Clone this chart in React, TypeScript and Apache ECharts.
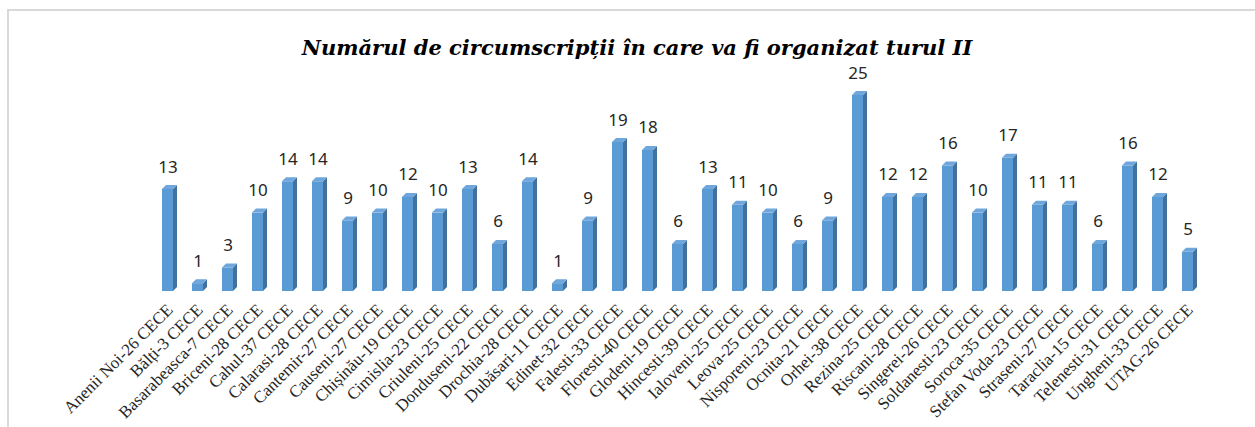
import React, { useEffect, useRef } from "react";
import * as echarts from "echarts";

const categories: string[] = [
  "Anenii Noi-26 CECE", "Bălți-3 CECE", "Basarabeasca-7 CECE", "Briceni-28 CECE",
  "Cahul-37 CECE", "Calarasi-28 CECE", "Cantemir-27 CECE", "Causeni-27 CECE",
  "Chișinău-19 CECE", "Cimislia-23 CECE", "Criuleni-25 CECE", "Donduseni-22 CECE",
  "Drochia-28 CECE", "Dubăsari-11 CECE", "Edinet-32 CECE", "Falesti-33 CECE",
  "Floresti-40 CECE", "Glodeni-19 CECE", "Hincesti-39 CECE", "Ialoveni-25 CECE",
  "Leova-25 CECE", "Nisporeni-23 CECE", "Ocnita-21 CECE", "Orhei-38 CECE",
  "Rezina-25 CECE", "Riscani-28 CECE", "Singerei-26 CECE", "Soldanesti-23 CECE",
  "Soroca-35 CECE", "Stefan Voda-23 CECE", "Straseni-27 CECE", "Taraclia-15 CECE",
  "Telenesti-31 CECE", "Ungheni-33 CECE", "UTAG-26 CECE",
];

const values: number[] = [
  13, 1, 3, 10, 14, 14, 9, 10, 12, 10, 13, 6, 14, 1, 9, 19, 18, 6, 13, 11, 10, 6,
  9, 25, 12, 12, 16, 10, 17, 11, 11, 6, 16, 12, 5,
];

const title = "Numărul de circumscripții în care va fi organizat turul II";

export default function App() {
  const ref = useRef<HTMLDivElement>(null);
  useEffect(() => {
    if (!ref.current) return;
    const chart = echarts.init(ref.current, undefined, { renderer: "svg" });
    chart.setOption({
      animation: false,
      backgroundColor: "#ffffff",
      title: {
        text: title,
        left: 632,
        textAlign: "center",
        top: 32,
        textStyle: {
          fontFamily: "DejaVu Serif",
          fontStyle: "italic",
          fontWeight: "bold",
          fontSize: 21,
          color: "#000000",
        },
      },
      graphic: [
        { type: "rect", shape: { x: 7, y: 9, width: 1248, height: 2 }, style: { fill: "#d9d9d9" }, silent: true },
        { type: "rect", shape: { x: 7, y: 9, width: 2, height: 418 }, style: { fill: "#d9d9d9" }, silent: true },
      ],
      grid: { left: 155, width: 1050, top: 95, height: 196 },
      xAxis: {
        type: "category",
        data: categories,
        axisLine: { show: false },
        axisTick: { show: false },
        axisLabel: {
          interval: 0,
          rotate: 45,
          margin: 16,
          fontFamily: "Liberation Serif",
          fontSize: 17,
          color: "#262626",
        },
      },
      yAxis: {
        type: "value",
        min: 0,
        max: 25,
        show: false,
        splitLine: { show: false },
      },
      series: [
        {
          type: "custom",
          data: values.map((v, i) => [i, v]),
          encode: { x: 0, y: 1 },
          clip: false,
          renderItem: (params: any, api: any) => {
            const top = api.coord([api.value(0), api.value(1)]);
            const base = api.coord([api.value(0), 0]);
            const c = top[0];
            const ty = top[1];
            const by = base[1];
            const d = 4;
            const x0 = c - 8;
            const x1 = c + 3;
            return {
              type: "group",
              children: [
                {
                  type: "rect",
                  shape: { x: x0, y: ty, width: x1 - x0, height: by - ty },
                  style: { fill: "#5b9bd5" },
                },
                {
                  type: "polygon",
                  shape: { points: [[x1, ty], [x1 + d, ty - d], [x1 + d, by - d], [x1, by]] },
                  style: { fill: "#41719c" },
                },
                {
                  type: "polygon",
                  shape: { points: [[x0, ty], [x1, ty], [x1 + d, ty - d], [x0 + d, ty - d]] },
                  style: { fill: "#6fa6dc" },
                },
                {
                  type: "text",
                  style: {
                    text: String(api.value(1)),
                    x: c - 2,
                    y: ty - 23,
                    textAlign: "center",
                    textVerticalAlign: "middle",
                    fontFamily: "Noto Sans",
                    fontSize: 17,
                    fill: "#262626",
                  },
                },
              ],
            };
          },
        },
      ],
    });
    return () => chart.dispose();
  }, []);
  return (
    <div
      ref={ref}
      style={{ position: "fixed", left: 0, top: 0, width: 1255, height: 427 }}
    />
  );
}
